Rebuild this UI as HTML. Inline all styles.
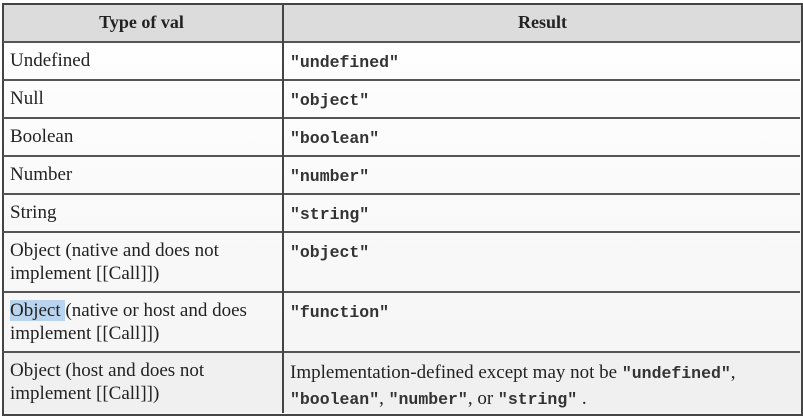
<!DOCTYPE html>
<html><head><style>
body{margin:0;width:803px;height:418px;background:#fff;position:relative;overflow:hidden;font-family:"Liberation Serif",serif;color:#222}
.row{position:absolute;left:3px;width:797px;border-top:2px solid #555}
.c{position:absolute;font-size:19px;line-height:23px}
.l{left:10px}.r{left:290px}
code{font-family:"Liberation Mono",monospace;font-weight:bold;font-size:16.5px;color:#333}
</style></head><body>
<div style="position:absolute;left:2px;top:3px;width:797px;height:409px;border:2px solid #444;background:linear-gradient(#fff,#f4f4f4)"></div>
<div style="position:absolute;left:4px;top:5px;width:797px;height:37px;background:#dcdcdc"></div>
<div class="row" style="top:41px"></div>
<div class="row" style="top:79px"></div>
<div class="row" style="top:117px"></div>
<div class="row" style="top:155px"></div>
<div class="row" style="top:193px"></div>
<div class="row" style="top:231px"></div>
<div class="row" style="top:291px"></div>
<div class="row" style="top:351px"></div>
<div style="position:absolute;left:4px;top:353px;width:797px;height:59px;background:#f0f0f0"></div>
<div style="position:absolute;left:282px;top:4px;width:2px;height:409px;background:#444"></div>
<div class="c" style="left:0;width:283px;top:11px;text-align:center;font-weight:bold;font-size:18px">Type of val</div>
<div class="c" style="left:284px;width:517px;top:11px;text-align:center;font-weight:bold;font-size:18px">Result</div>
<div class="c l" style="top:49px">Undefined</div><div class="c r" style="top:50px"><code>"undefined"</code></div>
<div class="c l" style="top:87px">Null</div><div class="c r" style="top:88px"><code>"object"</code></div>
<div class="c l" style="top:125px">Boolean</div><div class="c r" style="top:126px"><code>"boolean"</code></div>
<div class="c l" style="top:163px">Number</div><div class="c r" style="top:164px"><code>"number"</code></div>
<div class="c l" style="top:201px">String</div><div class="c r" style="top:202px"><code>"string"</code></div>
<div class="c l" style="top:239px">Object (native and does not<br>implement [[Call]])</div><div class="c r" style="top:240px"><code>"object"</code></div>
<div class="c l" style="top:299px"><span style="background:#b8d4ee">Object </span>(native or host and does<br>implement [[Call]])</div><div class="c r" style="top:300px"><code>"function"</code></div>
<div class="c l" style="top:359px">Object (host and does not<br>implement [[Call]])</div>
<div class="c r" style="top:360px;line-height:25px">Implementation-defined except may not be <code>"undefined"</code>,<br><code>"boolean"</code>, <code>"number"</code>, or <code>"string"</code> .</div>
</body></html>
